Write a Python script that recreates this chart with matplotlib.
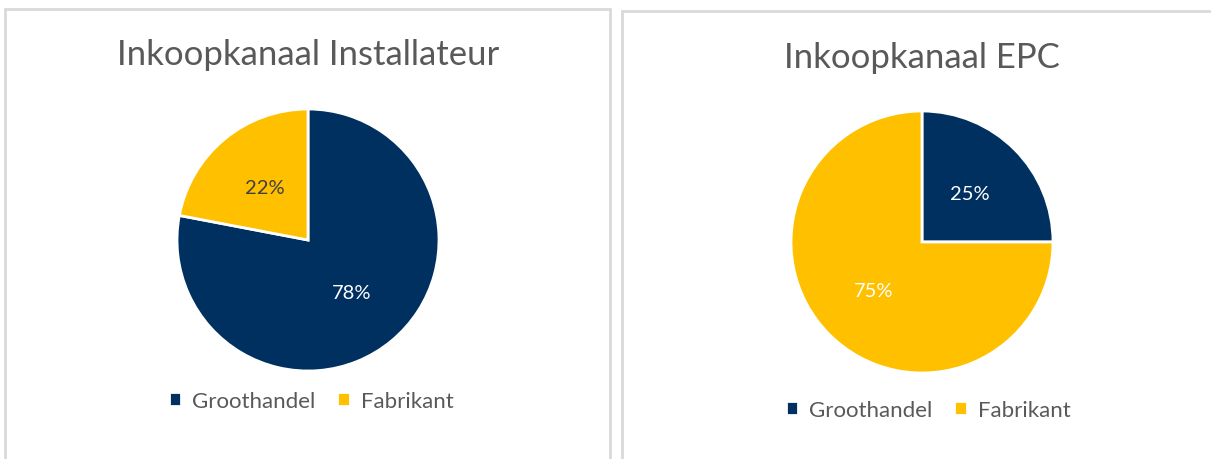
import matplotlib
matplotlib.use("Agg")
import matplotlib.pyplot as plt
from matplotlib.patches import Rectangle

plt.rcParams['font.family'] = ['Lato', 'DejaVu Sans']

W, H = 1211, 460
categories = ["Groothandel", "Fabrikant"]
titles = ["Inkoopkanaal Installateur", "Inkoopkanaal EPC"]
values_installateur = [78, 22]
values_epc = [25, 75]
colors = ["#003060", "#FFC000"]
pct_colors = [["white", "#404040"], ["white", "white"]]

fig = plt.figure(figsize=(W / 100, H / 100), dpi=100)

# panel borders (pixel coords)
for (x0, y0, x1) in [(5, 10, 610), (622, 12, 1220)]:
    fig.patches.append(Rectangle((x0 / W, -0.05), (x1 - x0) / W, 1.05 - y0 / H,
                                 transform=fig.transFigure, fill=False,
                                 edgecolor="#d9d9d9", linewidth=2))

panels = [
    dict(vals=values_installateur, cx=308, cy=241, r=131, ty=55, ly=402, lx=311),
    dict(vals=values_epc, cx=922, cy=243, r=131, ty=58, ly=411, lx=928),
]

for i, p in enumerate(panels):
    cx, cy, r = p["cx"], p["cy"], p["r"]
    ax = fig.add_axes([(cx - r) / W, 1 - (cy + r) / H, 2 * r / W, 2 * r / H])
    wedges, texts, autotexts = ax.pie(
        p["vals"], colors=colors, startangle=90, counterclock=False,
        autopct=lambda v: f"{v:.0f}%", pctdistance=0.52,
        wedgeprops=dict(edgecolor="white", linewidth=2),
        textprops=dict(fontsize=14.5))
    for t, c in zip(autotexts, pct_colors[i]):
        t.set_color(c)
    ax.set_xlim(-1, 1)
    ax.set_ylim(-1, 1)
    ax.set_aspect("equal")
    ax.axis("off")
    fig.text(cx / W, 1 - p["ty"] / H, titles[i], ha="center", va="center",
             fontsize=25, color="#595959")
    fig.legend(wedges, categories, loc="center", bbox_to_anchor=(p["lx"] / W, 1 - p["ly"] / H),
               ncol=2, frameon=False, fontsize=16, labelcolor="#595959",
               handlelength=0.55, handleheight=0.55, handletextpad=0.5, columnspacing=1.0)

fig.savefig("out.png", dpi=100, facecolor="white")
